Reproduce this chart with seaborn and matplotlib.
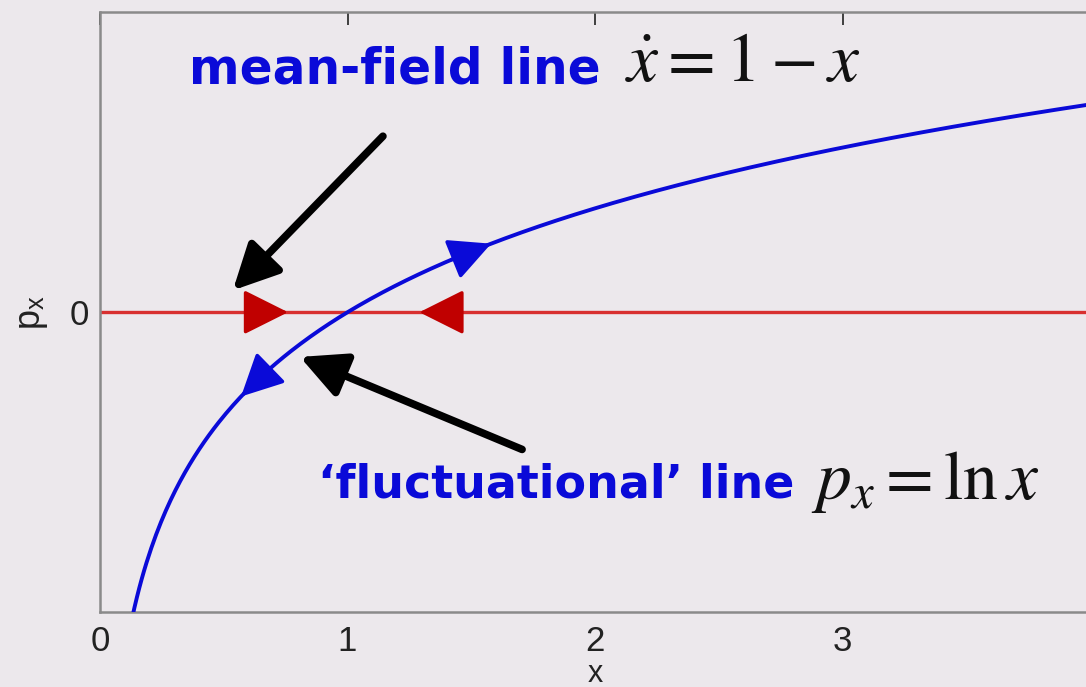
import numpy as np
import pandas as pd
import matplotlib
matplotlib.use("Agg")
import matplotlib.pyplot as plt
import seaborn as sns

# Axis settings
x_ticks = [0, 1, 2, 3]
y_ticks = [0]
x_limits = [0, 4]
y_limits = [-2, 2]

# Fluctuational line p_x = ln x sampled over the visible range
x_grid = np.linspace(0.12, 4.0, 400)
p_grid = np.log(x_grid)

# Mean-field line p_x = 0
mf_x = [0.0, 4.0]
mf_p = [0.0, 0.0]

# Flow-direction arrowheads: (tail x, tip x)
fluct_arrows = [(1.42, 1.58), (0.68, 0.57)]
meanfield_arrows = [(0.60, 0.76), (1.45, 1.29)]

# Pointer arrows: (tail x, tail y, tip x, tip y)
pointer_arrows = [(1.143, 1.174, 0.537, 0.146),
                  (1.705, -0.915, 0.808, -0.298)]

bg = "#ECE8EC"
sns.set_theme(style="white", rc={"axes.facecolor": bg, "figure.facecolor": bg})
plt.rcParams["font.family"] = ["Liberation Sans", "DejaVu Sans"]
plt.rcParams["mathtext.fontset"] = "stix"

fig = plt.figure(figsize=(10.86, 6.87), dpi=100)
ax = fig.add_axes([0.092, 0.109, 0.912, 0.873])

df_f = pd.DataFrame({"x": x_grid, "p": p_grid})
df_m = pd.DataFrame({"x": mf_x, "p": mf_p})
sns.lineplot(data=df_m, x="x", y="p", ax=ax, color="#D83030", lw=2.4, zorder=2)
sns.lineplot(data=df_f, x="x", y="p", ax=ax, color="#0A0AD8", lw=2.8, zorder=3)

head_style = "-|>,head_length=1.0,head_width=0.5"
for x0, x1 in fluct_arrows:
    ax.annotate("", xy=(x1, np.log(x1)), xytext=(x0, np.log(x0)),
                arrowprops=dict(arrowstyle=head_style, color="#0A0AD8",
                                lw=2.6, mutation_scale=26, shrinkA=0, shrinkB=0),
                zorder=4)
for x0, x1 in meanfield_arrows:
    ax.annotate("", xy=(x1, 0), xytext=(x0, 0),
                arrowprops=dict(arrowstyle=head_style, color="#C00000",
                                lw=2.4, mutation_scale=28, shrinkA=0, shrinkB=0),
                zorder=4)
for tx, ty, hx, hy in pointer_arrows:
    ax.annotate("", xy=(hx, hy), xytext=(tx, ty),
                arrowprops=dict(arrowstyle="-|>,head_length=1.1,head_width=0.55",
                                color="black", lw=5.5, mutation_scale=25,
                                shrinkA=0, shrinkB=0),
                zorder=5)

# Labels for the two lines
ax.text(0.36, 1.62, "mean-field line", color="#0A0AD8", fontsize=35,
        fontweight="bold", family=["DejaVu Sans"], va="center", ha="left")
ax.text(2.12, 1.66, r"$\dot{x} = 1 - x$", color="#111111", fontsize=50,
        va="center", ha="left")
ax.text(0.88, -1.15, "\u2018fluctuational\u2019 line", color="#0A0AD8", fontsize=33,
        fontweight="bold", family=["DejaVu Sans"], va="center", ha="left")
ax.text(2.87, -1.13, r"$p_x = \ln x$", color="#111111", fontsize=50,
        va="center", ha="left")

ax.set_xlim(*x_limits)
ax.set_ylim(*y_limits)
ax.set_xticks(x_ticks)
ax.set_yticks(y_ticks)
ax.tick_params(axis="both", labelsize=25, colors="#222222", direction="in",
               length=9, width=1.2, top=True, right=False, left=False)
ax.tick_params(axis="x", pad=9)
ax.tick_params(axis="y", pad=8)
for sp in ax.spines.values():
    sp.set_color("#8A8A8A")
    sp.set_linewidth(1.8)
ax.set_xlabel("x", fontsize=22, color="#222222", labelpad=1)
ax.set_ylabel(r"p$_\mathregular{x}$", fontsize=26, color="#222222", labelpad=14)

fig.savefig("out.png", dpi=100, facecolor=bg)
